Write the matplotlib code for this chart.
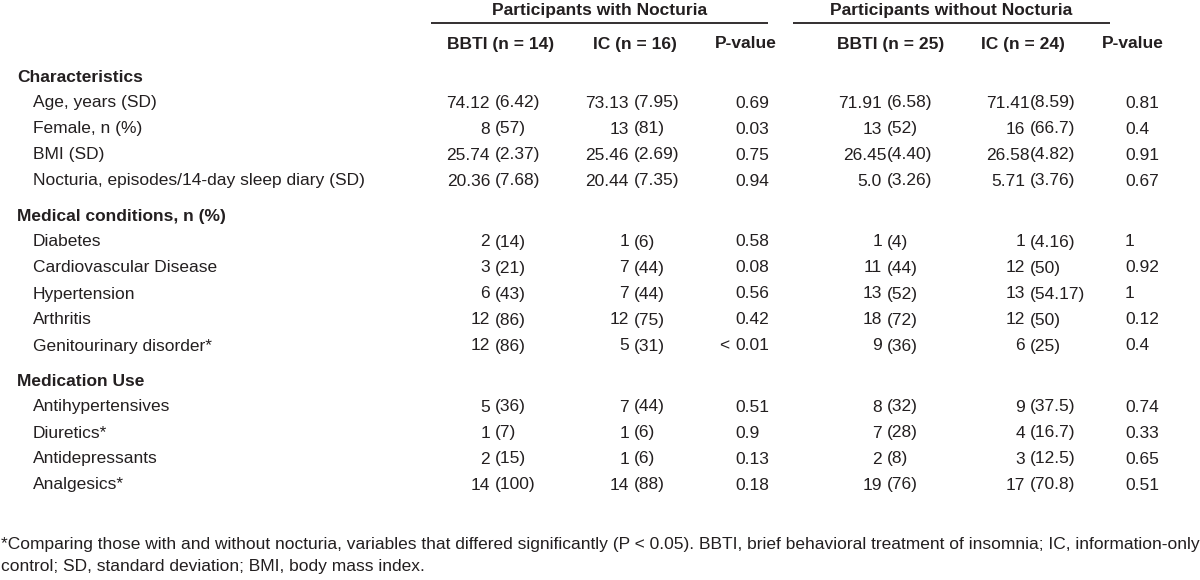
import matplotlib
matplotlib.use("Agg")
import matplotlib.pyplot as plt

plt.rcParams["font.family"] = ["Liberation Sans", "DejaVu Sans"]

# table content
groups = ["Participants with Nocturia", "Participants without Nocturia"]
col_headers = ["BBTI (n = 14)", "IC (n = 16)", "P-value", "BBTI (n = 25)", "IC (n = 24)", "P-value"]

sections = ["Characteristics", "Medical conditions, n (%)", "Medication Use"]
section_rows = [
    ["Age, years (SD)", "Female, n (%)", "BMI (SD)", "Nocturia, episodes/14-day sleep diary (SD)"],
    ["Diabetes", "Cardiovascular Disease", "Hypertension", "Arthritis", "Genitourinary disorder*"],
    ["Antihypertensives", "Diuretics*", "Antidepressants", "Analgesics*"],
]

bbti_noct = ["74.12 (6.42)", "8 (57)", "25.74 (2.37)", "20.36 (7.68)",
             "2 (14)", "3 (21)", "6 (43)", "12 (86)", "12 (86)",
             "5 (36)", "1 (7)", "2 (15)", "14 (100)"]
ic_noct = ["73.13 (7.95)", "13 (81)", "25.46 (2.69)", "20.44 (7.35)",
           "1 (6)", "7 (44)", "7 (44)", "12 (75)", "5 (31)",
           "7 (44)", "1 (6)", "1 (6)", "14 (88)"]
p_noct = ["0.69", "0.03", "0.75", "0.94",
          "0.58", "0.08", "0.56", "0.42", "< 0.01",
          "0.51", "0.9", "0.13", "0.18"]
bbti_nonoct = ["71.91 (6.58)", "13 (52)", "26.45(4.40)", "5.0 (3.26)",
               "1 (4)", "11 (44)", "13 (52)", "18 (72)", "9 (36)",
               "8 (32)", "7 (28)", "2 (8)", "19 (76)"]
ic_nonoct = ["71.41(8.59)", "16 (66.7)", "26.58(4.82)", "5.71 (3.76)",
             "1 (4.16)", "12 (50)", "13 (54.17)", "12 (50)", "6 (25)",
             "9 (37.5)", "4 (16.7)", "3 (12.5)", "17 (70.8)"]
p_nonoct = ["0.81", "0.4", "0.91", "0.67",
            "1", "0.92", "1", "0.12", "0.4",
            "0.74", "0.33", "0.65", "0.51"]

footnote = [
    "*Comparing those with and without nocturia, variables that differed significantly (P < 0.05). "
    "BBTI, brief behavioral treatment of insomnia; IC, information-only",
    "control; SD, standard deviation; BMI, body mass index.",
]

# layout (pixels)
FS = 12.5
INK = "#231f20"
col_anchor = [495, 634, 735, 887, 1030, 1125]   # "(" position / left edge for p-values
col_center = [501, 635, 746, 891, 1023, 1133]
group_span = [(431, 768), (793, 1110)]
ROW_STEP = 26
SEC_GAP = 35

fig = plt.figure(figsize=(12, 5.8), dpi=100)
ax = fig.add_axes([0, 0, 1, 1])
ax.set_xlim(0, 1200)
ax.set_ylim(580, 0)
ax.axis("off")

for name, (x0, x1) in zip(groups, group_span):
    ax.text((x0 + x1) / 2, 10, name, ha="center", va="center", fontsize=FS,
            fontweight="bold", color=INK)
    ax.plot([x0, x1], [23, 23], color=INK, lw=1.3, solid_capstyle="butt")

for x, h in zip(col_center, col_headers):
    ax.text(x, 44, h, ha="center", va="center", fontsize=FS, fontweight="bold", color=INK)


def value_cell(x, y, s):
    # align on the opening parenthesis
    if "(" not in s:
        ax.text(x, y, s, ha="left", va="center", fontsize=FS, color=INK)
        return
    i = s.index("(")
    left, right = s[:i], s[i:]
    gap = 5 if left.endswith(" ") else 0
    ax.text(x - gap, y, left.strip(), ha="right", va="center", fontsize=FS, color=INK)
    ax.text(x, y, right, ha="left", va="center", fontsize=FS, color=INK)


def p_cell(x, y, s):
    if s.startswith("<"):
        ax.text(x, y, "< ", ha="right", va="center", fontsize=FS, color=INK)
        s = s[1:].strip()
    ax.text(x, y, s, ha="left", va="center", fontsize=FS, color=INK)


columns = [bbti_noct, ic_noct, p_noct, bbti_nonoct, ic_nonoct, p_nonoct]

y = 77
k = 0
for si, (sec, rows) in enumerate(zip(sections, section_rows)):
    if si > 0:
        y += SEC_GAP
    ax.text(17, y, sec, ha="left", va="center", fontsize=FS, fontweight="bold", color=INK)
    for label in rows:
        y += ROW_STEP
        ax.text(33, y, label, ha="left", va="center", fontsize=FS, color=INK)
        for ci, col in enumerate(columns):
            if ci in (2, 5):
                p_cell(col_anchor[ci], y, col[k])
            else:
                value_cell(col_anchor[ci], y, col[k])
        k += 1

ax.text(1, 544, footnote[0], ha="left", va="center", fontsize=FS, color=INK)
ax.text(1, 566, footnote[1], ha="left", va="center", fontsize=FS, color=INK)

fig.savefig("out.png", dpi=100, facecolor="white")
